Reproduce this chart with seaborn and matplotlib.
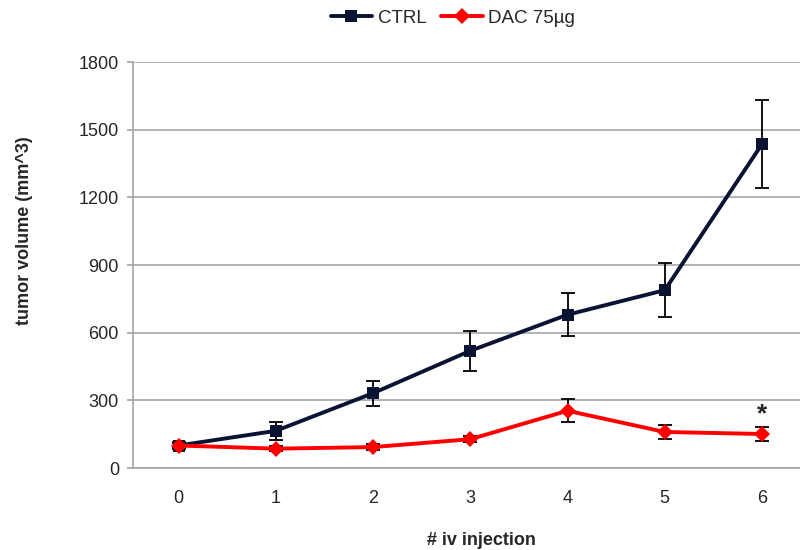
import pandas as pd
import matplotlib
matplotlib.use("Agg")
import matplotlib.pyplot as plt
import seaborn as sns

# data
injections = [0, 1, 2, 3, 4, 5, 6]
ctrl_mean = [100, 165, 332, 520, 680, 789, 1437]
ctrl_err = [15, 40, 55, 88, 96, 120, 193]
dac_mean = [100, 86, 93, 128, 254, 160, 151]
dac_err = [12, 10, 12, 12, 52, 31, 33]
groups = ["CTRL", "DAC 75µg"]
colors = {"CTRL": "#0b1333", "DAC 75µg": "#ff0000"}

df = pd.DataFrame({
    "injection": injections * 2,
    "volume": ctrl_mean + dac_mean,
    "err": ctrl_err + dac_err,
    "group": [groups[0]] * len(injections) + [groups[1]] * len(injections),
})

sns.set_theme(style="white")
plt.rcParams["font.family"] = ["Liberation Sans", "DejaVu Sans"]

fig = plt.figure(figsize=(8, 5.5), dpi=100)
ax = fig.add_axes([0.166, 0.149, 0.834, 0.738])

# error bars first so lines sit on top
for g in groups:
    sub = df[df["group"] == g]
    ax.errorbar(sub["injection"], sub["volume"], yerr=sub["err"], fmt="none",
                ecolor="black", elinewidth=1.3, capsize=5, capthick=1.3, zorder=2)

sns.lineplot(data=df, x="injection", y="volume", hue="group", style="group",
             markers={"CTRL": "s", "DAC 75µg": "D"}, dashes=False, palette=colors,
             linewidth=2.8, markersize=8, markeredgewidth=0, ax=ax, zorder=3)

# significance star
ax.text(6, dac_mean[6] + dac_err[6] + 2, "*", ha="center", va="bottom",
        fontsize=19, fontweight="bold")

ax.set_ylim(0, 1800)
ax.set_yticks(range(0, 1801, 300))
ax.set_xlim(-0.47, 6.39)
ax.set_xticks(injections)
ax.yaxis.grid(True, color="#a6a6a6", linewidth=1.2)
ax.set_axisbelow(True)
for s in ["top", "right"]:
    ax.spines[s].set_visible(False)
for s in ["left", "bottom"]:
    ax.spines[s].set_color("#a6a6a6")
    ax.spines[s].set_linewidth(1.2)
ax.tick_params(axis="y", which="major", left=True, length=4, color="#a6a6a6",
               labelsize=13, pad=6)
ax.tick_params(axis="x", bottom=False, labelsize=13, pad=10)

ax.set_xlabel("# iv injection", fontsize=13, fontweight="bold")
ax.set_ylabel("tumor volume (mm^3)", fontsize=13, fontweight="bold")
ax.xaxis.set_label_coords(0.523, -0.158)
ax.yaxis.set_label_coords(-0.15, 0.586)

handles, labels = ax.get_legend_handles_labels()
ax.legend(handles, labels, loc="center", bbox_to_anchor=(0.48, 1.108), ncol=2,
          frameon=False, fontsize=13.5, handlelength=2.2, columnspacing=0.8,
          handletextpad=0.3)

fig.savefig("out.png", dpi=100)
